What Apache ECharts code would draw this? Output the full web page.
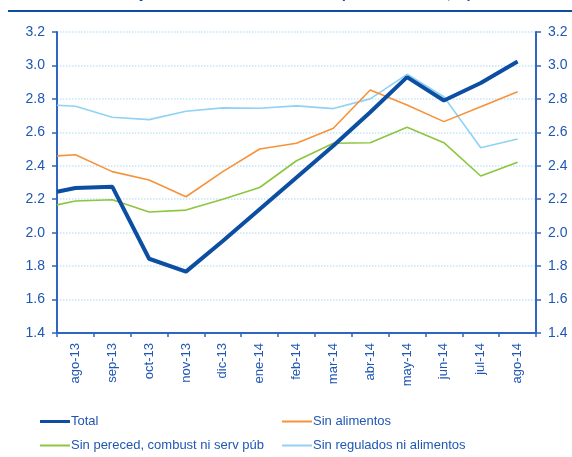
<!DOCTYPE html>
<html>
<head>
<meta charset="utf-8">
<script src="https://cdn.jsdelivr.net/npm/echarts@6/dist/echarts.min.js"></script>
<style>
html,body{margin:0;padding:0;background:#fff;}
#chart{width:572px;height:457px;}
</style>
</head>
<body>
<div id="chart"></div>
<script>
// Month categories (labels between ticks)
var categories = ['ago-13','sep-13','oct-13','nov-13','dic-13','ene-14','feb-14','mar-14','abr-14','may-14','jun-14','jul-14','ago-14'];
// x positions of the observations (in category units; first one sits at the left edge)
var xPositions = [-0.5,0,1,2,3,4,5,6,7,8,9,10,11,12];
var totalValues = [2.245,2.267,2.275,1.844,1.767,1.95,2.14,2.33,2.52,2.72,2.93,2.79,2.895,3.023];
var sinAlimentos = [2.459,2.466,2.365,2.315,2.215,2.365,2.50,2.535,2.624,2.853,2.764,2.664,2.753,2.843];
var sinPereced = [2.166,2.189,2.197,2.124,2.135,2.20,2.27,2.43,2.535,2.538,2.63,2.538,2.339,2.421];
var sinRegulados = [2.762,2.756,2.69,2.676,2.726,2.746,2.744,2.758,2.742,2.80,2.947,2.813,2.508,2.56];
var yTicks = [1.4,1.6,1.8,2.0,2.2,2.4,2.6,2.8,3.0,3.2];
var titleText = 'Inflación total y medidas de inflación básica (variación anual, %)';

function pairs(vals){ return vals.map(function(v,i){ return [xPositions[i], v]; }); }

var textBlue = '#1F57B3';
var axisBlue = '#2F66BF';
var font = 'Arial, "Liberation Sans", sans-serif';

var chart = echarts.init(document.getElementById('chart'), null, {renderer:'canvas'});

function legendItem(name, left, top, h){
  return {
    data:[{name:name, icon:'rect'}],
    left:left, top:top, orient:'horizontal',
    itemWidth:30, itemHeight:h, itemGap:2,
    padding:0,
    textStyle:{color:textBlue, fontSize:13, fontFamily:font, padding:[0,0,0,-4]},
    selectedMode:false
  };
}

function yAxisDef(pos, grid){
  return {
    type:'value', min:yTicks[0], max:yTicks[yTicks.length-1], interval:0.2, position:pos,
    axisLine:{show:true, onZero:false, lineStyle:{color:axisBlue, width:2}},
    axisTick:{show:true, length:5, lineStyle:{color:axisBlue, width:1.5}},
    axisLabel:{color:textBlue, fontSize:14, fontFamily:font, margin:12,
      formatter:function(v){ return v.toFixed(1); }},
    splitLine:{show:grid, lineStyle:{color:'#C3E4F7', type:'dotted', width:1.5}}
  };
}

var option = {
  animation:false,
  backgroundColor:'#ffffff',
  graphic:[
    {type:'rect', shape:{x:8, y:10, width:564, height:2}, style:{fill:'#0B4EA2'}},
    {type:'text', x:472, y:-13, style:{text:titleText, textAlign:'right', fill:'#0B4EA2', font:'bold 14px Arial, "Liberation Sans", sans-serif'}}
  ],
  grid:{left:57, right:36, top:32, bottom:124, containLabel:false},
  legend:[
    legendItem('Total', 40, 415, 3),
    legendItem('Sin alimentos', 282, 415, 2),
    legendItem('Sin pereced, combust ni serv púb', 40, 439, 2),
    legendItem('Sin regulados ni alimentos', 282, 439, 2)
  ],
  xAxis:[
    {
      type:'category', data:categories, boundaryGap:true,
      axisLine:{onZero:false, lineStyle:{color:axisBlue, width:2}},
      axisTick:{show:true, alignWithLabel:false, length:4, lineStyle:{color:axisBlue, width:1.5}},
      axisLabel:{rotate:90, color:textBlue, fontSize:13, fontFamily:font, margin:10},
      splitLine:{show:false}
    },
    {
      type:'value', min:-0.5, max:12.5, show:false
    }
  ],
  yAxis:[ yAxisDef('left', true), yAxisDef('right', false) ],
  series:[
    {name:'Sin regulados ni alimentos', type:'line', xAxisIndex:1, yAxisIndex:0, data:pairs(sinRegulados),
      symbol:'none', lineStyle:{color:'#8FD2F4', width:1.6}, itemStyle:{color:'#8FD2F4'}, z:2},
    {name:'Sin pereced, combust ni serv púb', type:'line', xAxisIndex:1, yAxisIndex:0, data:pairs(sinPereced),
      symbol:'none', lineStyle:{color:'#8CC63E', width:1.6}, itemStyle:{color:'#8CC63E'}, z:3},
    {name:'Sin alimentos', type:'line', xAxisIndex:1, yAxisIndex:0, data:pairs(sinAlimentos),
      symbol:'none', lineStyle:{color:'#F7923A', width:1.6}, itemStyle:{color:'#F7923A'}, z:4},
    {name:'Total', type:'line', xAxisIndex:1, yAxisIndex:0, data:pairs(totalValues),
      symbol:'none', lineStyle:{color:'#0B4EA2', width:4}, itemStyle:{color:'#0B4EA2'}, z:5}
  ]
};
chart.setOption(option);
</script>
</body>
</html>
